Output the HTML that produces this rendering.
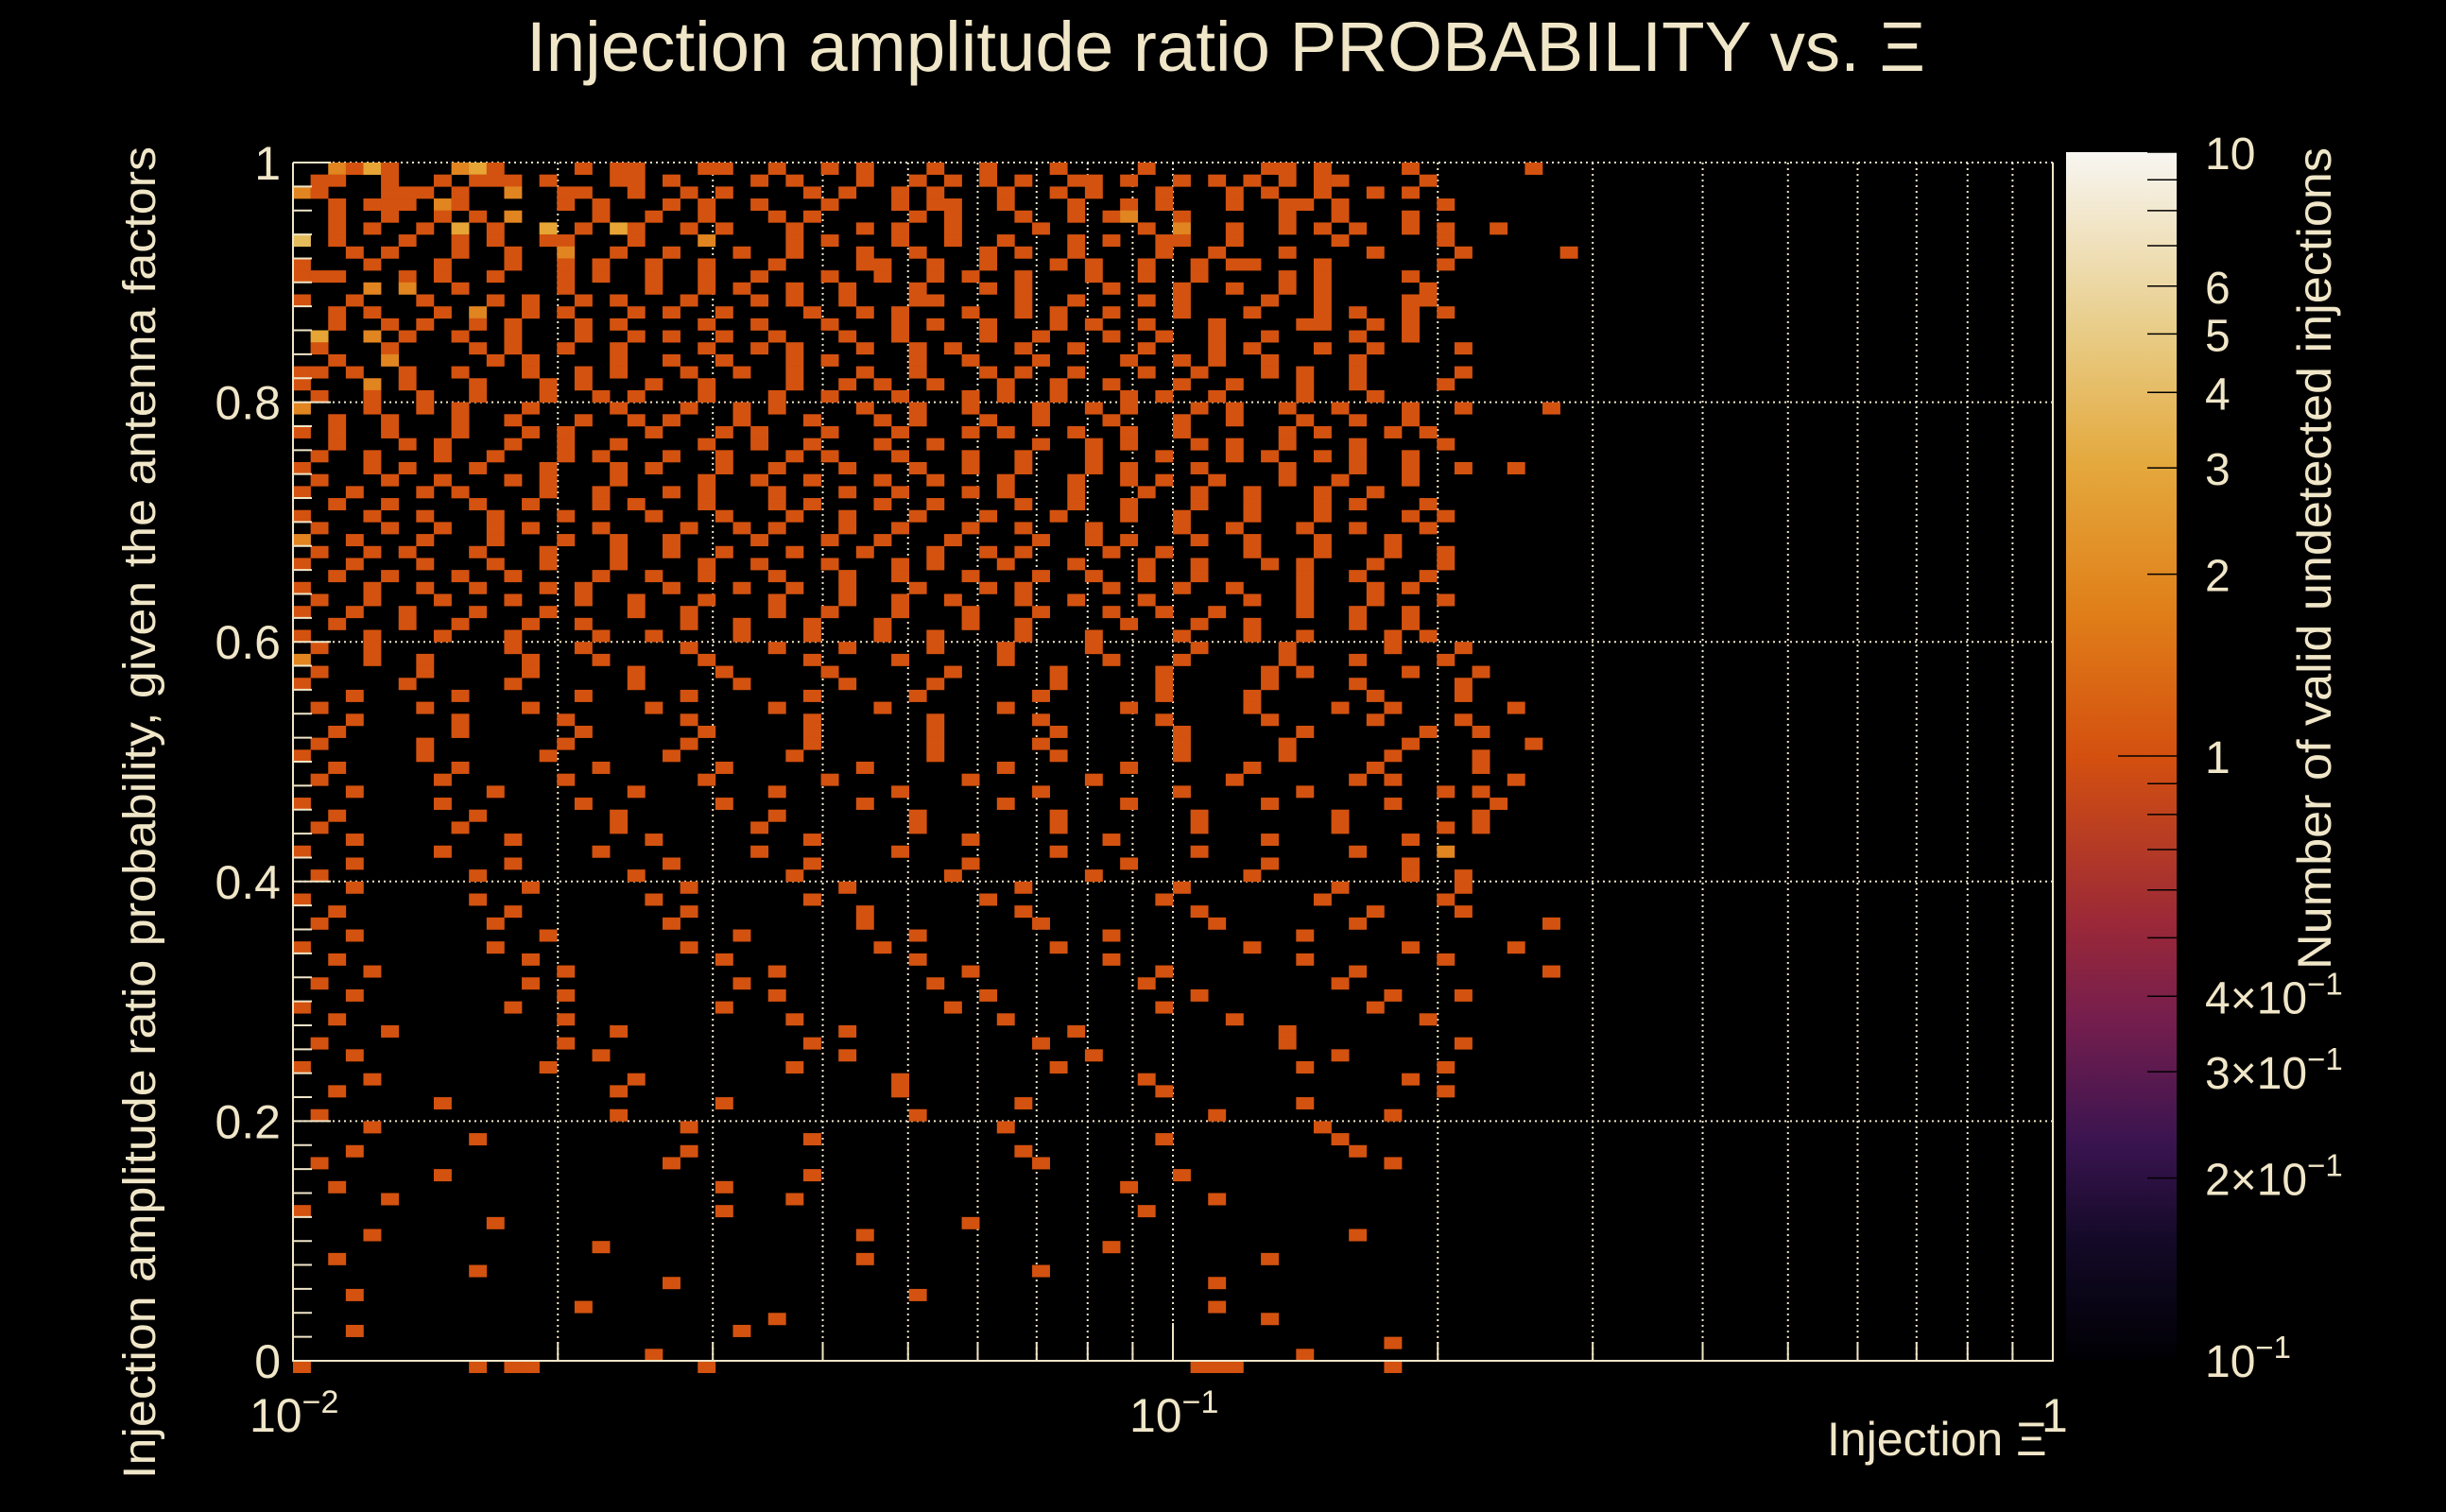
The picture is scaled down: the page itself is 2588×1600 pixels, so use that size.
<!DOCTYPE html>
<html><head><meta charset="utf-8"><title>Injection amplitude ratio</title>
<style>html,body{margin:0;padding:0;background:#000;}svg{display:block;}text{font-family:"Liberation Sans",sans-serif;fill:#f0e6c8;}</style>
</head><body>
<svg id="chart" width="2588" height="1600" viewBox="0 0 2588 1600" xmlns="http://www.w3.org/2000/svg">
<rect width="2588" height="1600" fill="#000"/>
<defs>
<linearGradient id="cmap" x1="0" y1="1" x2="0" y2="0">
<stop offset="0" stop-color="#000004"/><stop offset="0.1" stop-color="#140a28"/><stop offset="0.18" stop-color="#3a1450"/><stop offset="0.28" stop-color="#741e4e"/><stop offset="0.36" stop-color="#9a2838"/><stop offset="0.5" stop-color="#d4500f"/><stop offset="0.62" stop-color="#e07f19"/><stop offset="0.74" stop-color="#e4a83c"/><stop offset="0.85" stop-color="#e8cc86"/><stop offset="1" stop-color="#f8f6f2"/>
</linearGradient>
</defs>
<text x="557" y="75" font-size="74" textLength="1480" lengthAdjust="spacingAndGlyphs">Injection amplitude ratio PROBABILITY vs.  Ξ</text>
<g id="grid"></g>
<g id="cells"></g>
<g id="axes"></g>
<rect x="2186" y="161" width="117" height="1278" fill="url(#cmap)"/>
<g id="cbar"></g>
<text transform="translate(164,860) rotate(-90)" text-anchor="middle" font-size="48" textLength="1410" lengthAdjust="spacingAndGlyphs">Injection amplitude ratio probability, given the antenna factors</text>
<text transform="translate(2466,591) rotate(-90)" text-anchor="middle" font-size="50" textLength="870" lengthAdjust="spacingAndGlyphs">Number of valid undetected injections</text>
<text x="1933" y="1540" font-size="50">Injection Ξ</text>
</svg>
<script>
const xTickValues = [0.01, 0.1, 1];
const xTickLabels = ["10", "10", "1"];
const xTickExps = ["\u22122", "\u22121", ""];
const yTickValues = [0, 0.2, 0.4, 0.6, 0.8, 1];
const yTickLabels = ["0", "0.2", "0.4", "0.6", "0.8", "1"];
const cbarTickValues = [10, 6, 5, 4, 3, 2, 1, 0.4, 0.3, 0.2, 0.1];
const cbarTickLabels = ["10", "6", "5", "4", "3", "2", "1", "4\u00d710", "3\u00d710", "2\u00d710", "10"];
const cbarTickExps = ["", "", "", "", "", "", "", "\u22121", "\u22121", "\u22121", "\u22121"];
const xBins = 100, yBins = 100;
// counts per bin, row 0 = top (y 0.99-1.00), column 0 = x 0.01; '.' = empty
const cellRows = [
"..2131...231....1.11...11..1..1.1...1..1...1....1......11.1....1......1",
".11..1..1.111.1...11.1....1.1...1..1.1.1.1..11.1..1.1.1.1.11....1",
"21...111.1..2..11..1..1.1....1.1..1.1...1..1.1...1...1.1..1..1.1",
"..1.111.21.....1.1...1.1..1...1...1.11..1...1..1.1...1..11.1.....1",
"..1..1..1.1.2....1..1..1...1.1.....1.1...1..1.12..1.....1..1...1",
"..1.1..1.3.1..3.1.31..1.1...1...1.1..1....1.....1.2..1..1.1.1..1.1..1",
"4.1...1..1.1..11...1...2....1.1...1..1..1...1.1..11..1.....1.....1",
"...1.1...1..1..2..1..1...1..1...1..1...1.1..1....1..1...1....1....1.....1",
"1...1...1...1..1.1..1..1...1....11..1..1...1.1..1..1.11...1......1",
"111...1.1..1...1.1..1..1..1...1..1..1.1..1...1..1..1....1.1....1",
"....2.2..1.....1....1..1.1..1..1...1...1.1....1...1..1..1.1.....1",
"1..1...1...1.1..1.1...1...1.1..1...11....1..1...1.1....1..1....11",
"..1.1...1.2..1.1...1.1..1....1..1.1...1..1.1..1...1...1...1.1..1.1",
"..1..1.1..1.1...1.1....1..1...1...1.1..1...1.1..1...1....11..1.1",
".3..2.1..1..1...1..1.1..1..1...1..1....1..1...1..1..1..1....1..1",
".1...1....1.1..1..1....1..1.1...1..1.1...1..1...1...1.1...1..1....1",
"..1..2.....1.1....1..1..1...1.1....1..1...1....1..1.1..1....1",
"11.1..1..1...1..1.1...1..1..1...1..1...1.1..1...1..1...1.1..1.....1",
"1...2.1...1...1.1...1..1....1..1.1..1...1..1..1...1..1...1..1....1",
".1..1..1..1...1..1.1...1...1..1...1...1.1..1...1.1..1....1...1",
"2...1..1.1...1....1...1..1.1....1..1..1...1..1.1...1.1..1..1...1..1....1",
"..1..1...1..1...1..1.1...1...1...1.1...1..1...1...1..1...1..1..1",
"1.1..1...1...1.1....1...1.1...1...1...1.1...1..1..1.....1.1...1.1",
"..1...1.1...1..1..1....1..1..1...1..1.....1..1.1...1.1..1...1....1",
".1..1...1..1...1.1...1..1...1.1...1...1..1...1...1...1.1..1.1..1",
"1...1.1...1...1...1.1...1..1...1...1..1..1...1.1...1....1...1..1..1..1",
".1...1..1...1.1...1....1..1..1...1..1...1...1..1.1..1...1..1...1",
"1..1...1.1....1..1...1.1...1...1..1...1.1...1...1..1..1...1..1",
"..1..1....1..1...1.1...1...1.1...1..1....1..1..1...1..1...1.1...1",
"1...1..1...1...1....1...1...1..1...1...1...1...1..1...1...1....1.1",
".1...1..1..1.1...1....1..1.1...1..1...1..1...1....1..1...1..1...1",
"2..1...1...1...1..1..1....1...1..1...1....1..1.1...1..1...1...1",
".1..1.1...1...1...1..1..1...1...1...1..1.1....1..1....1...1...1..1",
"1..1...1...1..1...1....1..1...1...1.1...1...1...1..1...1.1...1...1",
"..1..1...1..1....1..1..1...1...1..1...1...1..1..1..1.....1..1...1",
"1...1..1..1...1.1....1...1..1..1...1...1.1....1...1..1...1...1.1",
".1..1...1...1...1..1...1...1...1..1..1...1..1...1.....1..1...1...1",
"1..1..1...1...1....1..1....1..1...1...1...1...1..1..1....1..1..1",
"..1...1..1...1..1.....1..1...1...1....1..1.....1...1..1.....1..1",
"1...1...1...1....1..1....1...1...1..1....1...1....1...1..1....1.1",
".1..1.......1...1.....1....1...1....1...1....1.....1....1.....1...1",
"2...1..1.....1...1.....1.....1....1.....1.....1...1.....1...1....1",
".1.....1.....1.....1....1.....1......1.....1.....1.....1.1.....1...1",
"1.....1.....1......1.....1.....1....1......1.....1.....1....1.....1",
"...1.....1......1.....1......1.....1......1......1....1......1....1",
".1.....1.....1......1......1.....1......1......1......1....1..1......1",
"...1.....1.....1......1......1......1.....1......1.....1.....1....1",
"..1......1......1......1.....1......1......1......1......1......1..1",
".1.....1.......1......1......1......1.....1.......1.....1......1......1",
"1......1......1......1......1.......1......1......1.....1.....1....1",
"..1......1.......1......1.......1.......1......1......1......1.....1",
".1......1......1.......1......1.......1......1.......1......1.1......1",
"...1.......1.......1.......1......1.......1.......1......1.......1.1",
"1.......1.......1.......1.......1.......1......1.......1......1.....1",
"..1.......1.......1........1.......1.......1.......1.......1.......1",
".1.......1........1.......1........1.......1.......1.......1.....1.1",
"...1........1.......1........1........1.......1........1.......1",
"1.......1........1........1.......1........1.......1........1....2",
"...1........1........1.......1........1........1.......1.......1",
".1........1........1........1........1.......1........1........1..1",
"...1.........1........1........1.........1........1........1......1",
"1.........1.........1........1.........1.........1........1......1",
"..1.........1.........1.........1........1.........1.........1....1",
".1.........1.........1..........1.........1.........1.......1..........1",
"...1..........1..........1.........1..........1..........1",
"1..........1..........1..........1.........1..........1........1.....1",
"..1..........1..........1..........1..........1..........1.......1",
"....1..........1...........1..........1..........1..........1..........1",
".1...........1...........1..........1...........1..........1",
"...1...........1...........1...........1...........1..........1...1",
"1...........1...........1............1...........1...........1",
"..1............1............1...........1............1..........1",
".....1............1............1............1...........1",
".1.............1.............1............1.............1.........1",
"...1.............1.............1.............1.............1",
"1.............1.............1..............1.............1.......1",
"....1..............1..............1.............1..............1",
"..1...............1...............1..............1...............1",
"........1...............1................1...............1",
".1................1................1................1.........1",
"....1.................1.................1.................1",
"..........1..................1...................1.........1",
"...1..................1..................1..................1",
".1...................1....................1...................1",
"........1....................1....................1",
"..1.....................1......................1",
".....1......................1.......................1",
"1.......................1.......................1",
"...........1..........................1",
"....1...........................1...........................1",
".................1............................1",
"..1.............................1......................1",
"..........1...............................1",
".....................1..............................1",
"...1...............................1",
"................1...................................1",
"...........................1...........................1",
"...1.....................1",
"..............................................................1",
"....................1....................................1",
"1.........1.11.........1...........................111........1"
];
const cbarMinorTicks = [9, 8, 7, 0.9, 0.8, 0.7, 0.6, 0.5];

const SVGNS = "http://www.w3.org/2000/svg";
const PX0 = 310, PX1 = 2172, PY0 = 172, PY1 = 1440;
const CB_Y0 = 161, CB_Y1 = 1439, CB_X0 = 2186, CB_X1 = 2303;
function xScale(v) { return PX0 + (Math.log10(v) + 2) / 2 * (PX1 - PX0); }
function yScale(v) { return PY1 - v * (PY1 - PY0); }
function cbScale(v) { return CB_Y1 - (Math.log10(v) + 1) / 2 * (CB_Y1 - CB_Y0); }
function mk(tag, attrs, parent) {
  const e = document.createElementNS(SVGNS, tag);
  for (const k in attrs) e.setAttribute(k, attrs[k]);
  parent.appendChild(e);
  return e;
}
function countColor(c) {
  const colors = {1: "#d4520f", 2: "#e08520", 3: "#e6a535", 4: "#e4bc5c", 5: "#e8c877", 6: "#ead394"};
  return colors[Math.min(c, 6)];
}
const grid = document.getElementById("grid");
const cells = document.getElementById("cells");
const axes = document.getElementById("axes");
const cbar = document.getElementById("cbar");
const gridStyle = {stroke: "#f0e6c8", "stroke-width": 2, "stroke-dasharray": "2 4"};

for (let d = -2; d < 0; d++) {
  for (let m = 1; m <= 9; m++) {
    const v = m * Math.pow(10, d);
    if (v <= 0.01) continue;
    const gx = xScale(v);
    const ln = mk("line", Object.assign({x1: gx, x2: gx, y1: PY0, y2: PY1}, gridStyle), grid);
    
    
    const tk = mk("line", {x1: gx, x2: gx, y1: PY1, y2: PY1 - (m === 1 ? 40 : 20), stroke: "#f0e6c8", "stroke-width": 2}, axes);
    
    
  }
}
yTickValues.forEach(function (v) {
  if (v === 0) return;
  const gy = yScale(v);
  const ln = mk("line", Object.assign({x1: PX0, x2: PX1, y1: gy, y2: gy}, gridStyle), grid);
  
  
});

cellRows.forEach(function (row, r) {
  for (let c = 0; c < row.length; c++) {
    const ch = row[c];
    if (ch === ".") continue;
    const n = parseInt(ch, 10);
    const xa = xScale(Math.pow(10, -2 + 2 * c / xBins));
    const xb = xScale(Math.pow(10, -2 + 2 * (c + 1) / xBins));
    const ya = yScale((yBins - r) / yBins);
    const yb = yScale((yBins - r - 1) / yBins);
    const rc = mk("rect", {x: xa, y: ya, width: xb - xa + 0.3, height: yb - ya + 0.3, fill: countColor(n)}, cells);
    
    
  }
});

const fr = mk("path", {d: "M" + PX0 + " " + PY0 + " V" + PY1 + " H" + PX1 + " V" + PY0, fill: "none", stroke: "#f0e6c8", "stroke-width": 2}, axes);



for (let i = 0; i <= 50; i++) {
  const v = i / 50;
  const gy = yScale(v);
  const major = i % 10 === 0;
  const tk = mk("line", {x1: PX0, x2: PX0 + (major ? 40 : 20), y1: gy, y2: gy, stroke: "#f0e6c8", "stroke-width": 2}, axes);
  
  
}
yTickValues.forEach(function (v, i) {
  const t = mk("text", {x: 297, y: yScale(v) + 18, "text-anchor": "end", "font-size": 50}, axes);
  t.textContent = yTickLabels[i];
  
  
});
xTickValues.forEach(function (v, i) {
  const t = mk("text", {x: xScale(v) - 46 + (xTickExps[i] ? 0 : 34), y: 1515, "font-size": 50}, axes);
  t.textContent = xTickLabels[i];
  if (xTickExps[i]) {
    const s = mk("tspan", {dy: -20, "font-size": 34}, t);
    s.textContent = xTickExps[i];
  }
  
  
});

cbarTickValues.concat(cbarMinorTicks).forEach(function (v) {
  const gy = cbScale(v);
  const tk = mk("line", {x1: v === 1 ? 2241 : 2272, x2: CB_X1, y1: gy, y2: gy, stroke: "#000", "stroke-width": 1.5}, cbar);
  
  
});
cbarTickValues.forEach(function (v, i) {
  const t = mk("text", {x: 2333, y: cbScale(v) + 18, "font-size": 48}, cbar);
  t.textContent = cbarTickLabels[i];
  if (cbarTickExps[i]) {
    const s = mk("tspan", {dy: -20, "font-size": 33}, t);
    s.textContent = cbarTickExps[i];
  }
  
  
});
</script>
</body></html>
